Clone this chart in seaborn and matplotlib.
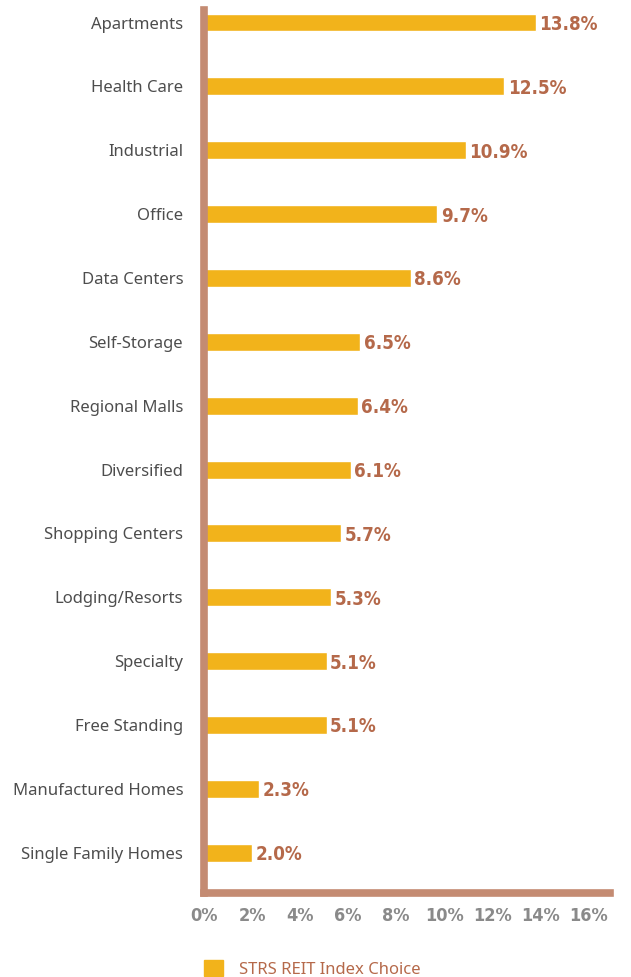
import pandas as pd
import seaborn as sns
import matplotlib.pyplot as plt
from matplotlib.patches import Patch

sectors = ["Apartments", "Health Care", "Industrial", "Office", "Data Centers",
           "Self-Storage", "Regional Malls", "Diversified", "Shopping Centers",
           "Lodging/Resorts", "Specialty", "Free Standing", "Manufactured Homes",
           "Single Family Homes"]
weights = [13.8, 12.5, 10.9, 9.7, 8.6, 6.5, 6.4, 6.1, 5.7, 5.3, 5.1, 5.1, 2.3, 2.0]
ticks = [0, 2, 4, 6, 8, 10, 12, 14, 16]

bar_col = "#F2B31B"
spine_col = "#C48B72"
label_col = "#B5694A"

df = pd.DataFrame({"sector": sectors, "weight": weights})

sns.set_style("white")
plt.rcParams['font.family'] = ['Noto Sans', 'DejaVu Sans']

fig = plt.figure(figsize=(6.31, 9.77), dpi=100)
ax = fig.add_axes([204 / 631, 0.086, 406 / 631, 0.904])

sns.barplot(data=df, x="weight", y="sector", color=bar_col, width=0.28,
            saturation=1, ax=ax)

for i, v in enumerate(weights):
    ax.text(v + 0.15, i + 0.03, f"{v:.1f}%", va="center", ha="left",
            color=label_col, fontsize=13.5, fontweight="bold",
            family="DejaVu Sans", fontstretch="condensed")

ax.set_xlim(0, 16.9)
ax.set_ylim(13.63, -0.2)
ax.set_xticks(ticks)
ax.set_xticklabels([f"{t}%" for t in ticks], color="#8a8a8a", fontsize=13,
                   fontweight="bold", family="DejaVu Sans", fontstretch="condensed")
ax.tick_params(axis="y", length=0, pad=15, labelsize=12, labelcolor="#4d4d4d")
ax.tick_params(axis="x", length=0, pad=10)
ax.set_xlabel("")
ax.set_ylabel("")

for s in ["top", "right"]:
    ax.spines[s].set_visible(False)
for s in ["left", "bottom"]:
    ax.spines[s].set_color(spine_col)
    ax.spines[s].set_linewidth(5.5)
ax.spines["left"].set_zorder(5)

fig.legend(handles=[Patch(color=bar_col, label="STRS REIT Index Choice")],
           loc="lower left", bbox_to_anchor=(0.30, -0.016), frameon=False,
           fontsize=12, labelcolor=label_col, handlelength=1.1, handleheight=1.1,
           handletextpad=1.0)

fig.savefig("out.png", dpi=100)
